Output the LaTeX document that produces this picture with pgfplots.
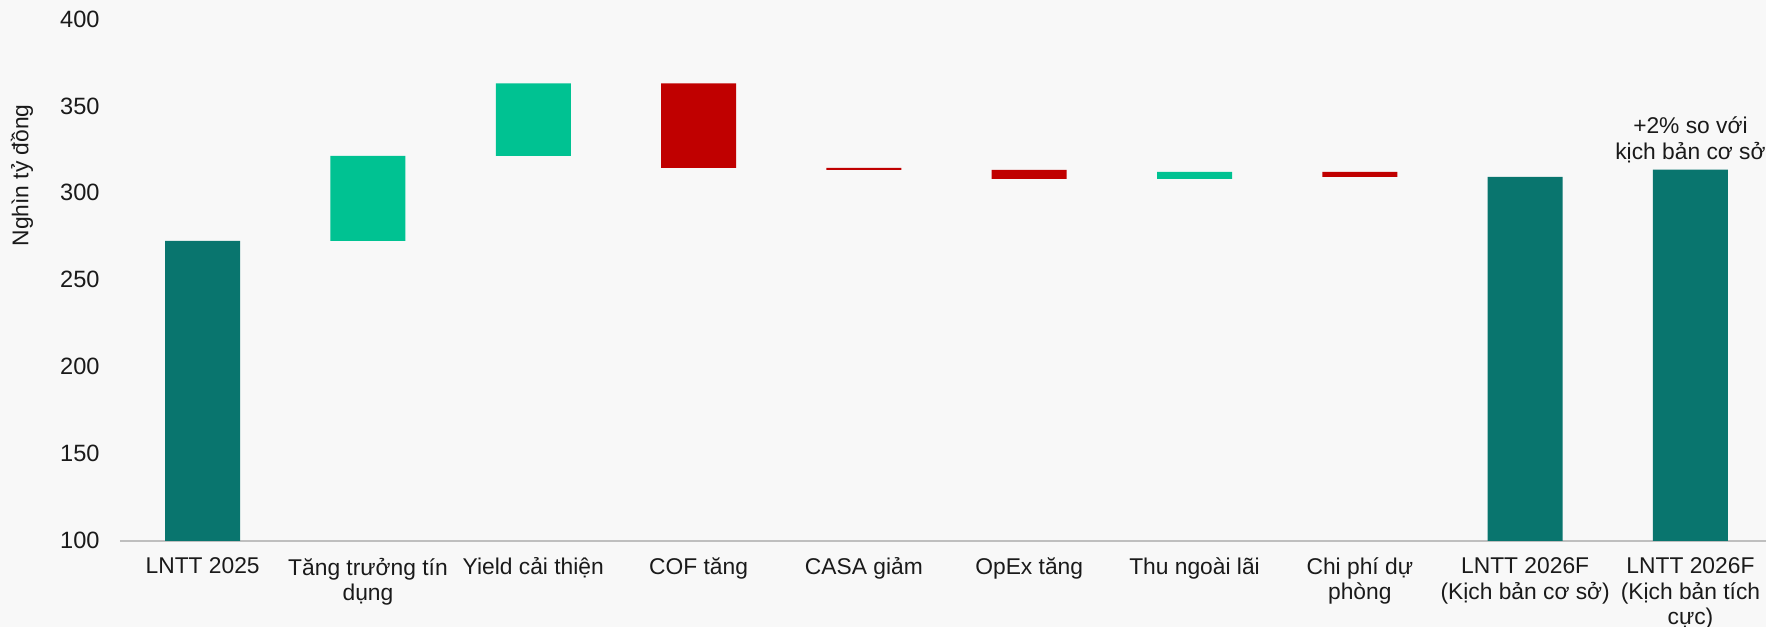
\documentclass[border=0pt]{standalone}
\usepackage{fontspec}
\setmainfont{Liberation Sans}
\usepackage{pgfplots}
\pgfplotsset{compat=1.18}
\definecolor{bgcol}{RGB}{248,248,248}
\definecolor{tealdark}{RGB}{9,117,110}
\definecolor{upgreen}{RGB}{0,194,146}
\definecolor{downred}{RGB}{192,0,0}
\definecolor{axisgray}{RGB}{191,191,191}
\definecolor{txt}{RGB}{26,26,26}
\begin{document}
\fontsize{11.4pt}{13.7pt}\selectfont
\begin{tikzpicture}
\fill[bgcol] (-60pt,-43.2pt) rectangle (823pt,270.25pt);
\useasboundingbox (-60pt,-43.2pt) rectangle (823pt,270.25pt);
\begin{axis}[
  at={(0,0)}, anchor=south west,
  scale only axis, width=823pt, height=260.75pt,
  xmin=-0.5, xmax=9.457, ymin=100, ymax=400,
  ytick={100,150,...,400},
  xtick={0,...,9},
  xticklabels={LNTT 2025, Tăng trưởng tín\\dụng, Yield cải thiện, COF tăng, CASA giảm, OpEx tăng, Thu ngoài lãi, Chi phí dự\\phòng, LNTT 2026F\\(Kịch bản cơ sở), LNTT 2026F\\(Kịch bản tích\\cực)},
  ybar stacked, bar width=37.5pt,
  axis x line*=bottom, axis y line*=left,
  y axis line style={draw=none},
  x axis line style={draw=axisgray, line width=1pt},
  major tick length=0pt,
  tick style={draw=none},
  /pgf/number format/assume math mode=true,
  ticklabel style={font=\fontsize{11.4pt}{12.6pt}\selectfont, text=txt},
  xticklabel style={align=center, anchor=north, inner sep=0pt, yshift=-8.5pt},
  yticklabel style={anchor=east, inner sep=0pt, xshift=-10pt, font=\fontsize{11.8pt}{13.7pt}\selectfont},
  ylabel={Nghìn tỷ đồng},
  ylabel style={at={(axis description cs:-0.0595,0.70)}, anchor=center, font=\fontsize{11.4pt}{13.7pt}\selectfont, text=txt},
  every axis plot/.append style={draw=none},
]
% invisible base
\addplot[fill=none, draw=none] coordinates {(0,0) (1,272.3) (2,321.3) (3,314.3) (4,313.2) (5,308.0) (6,308.0) (7,309.2) (8,0) (9,0)};
% totals
\addplot[fill=tealdark] coordinates {(0,272.3) (1,0) (2,0) (3,0) (4,0) (5,0) (6,0) (7,0) (8,309.2) (9,313.3)};
% increases
\addplot[fill=upgreen] coordinates {(0,0) (1,49.0) (2,41.7) (3,0) (4,0) (5,0) (6,4.0) (7,0) (8,0) (9,0)};
% decreases
\addplot[fill=downred] coordinates {(0,0) (1,0) (2,0) (3,48.7) (4,1.1) (5,5.2) (6,0) (7,2.8) (8,0) (9,0)};
\node[align=center, anchor=south, inner sep=0pt, text=txt, font=\fontsize{11.4pt}{13pt}\selectfont] at (axis cs:9,313.3) [yshift=3pt] {+2\% so với\\kịch bản cơ sở};
\end{axis}
\end{tikzpicture}
\end{document}
